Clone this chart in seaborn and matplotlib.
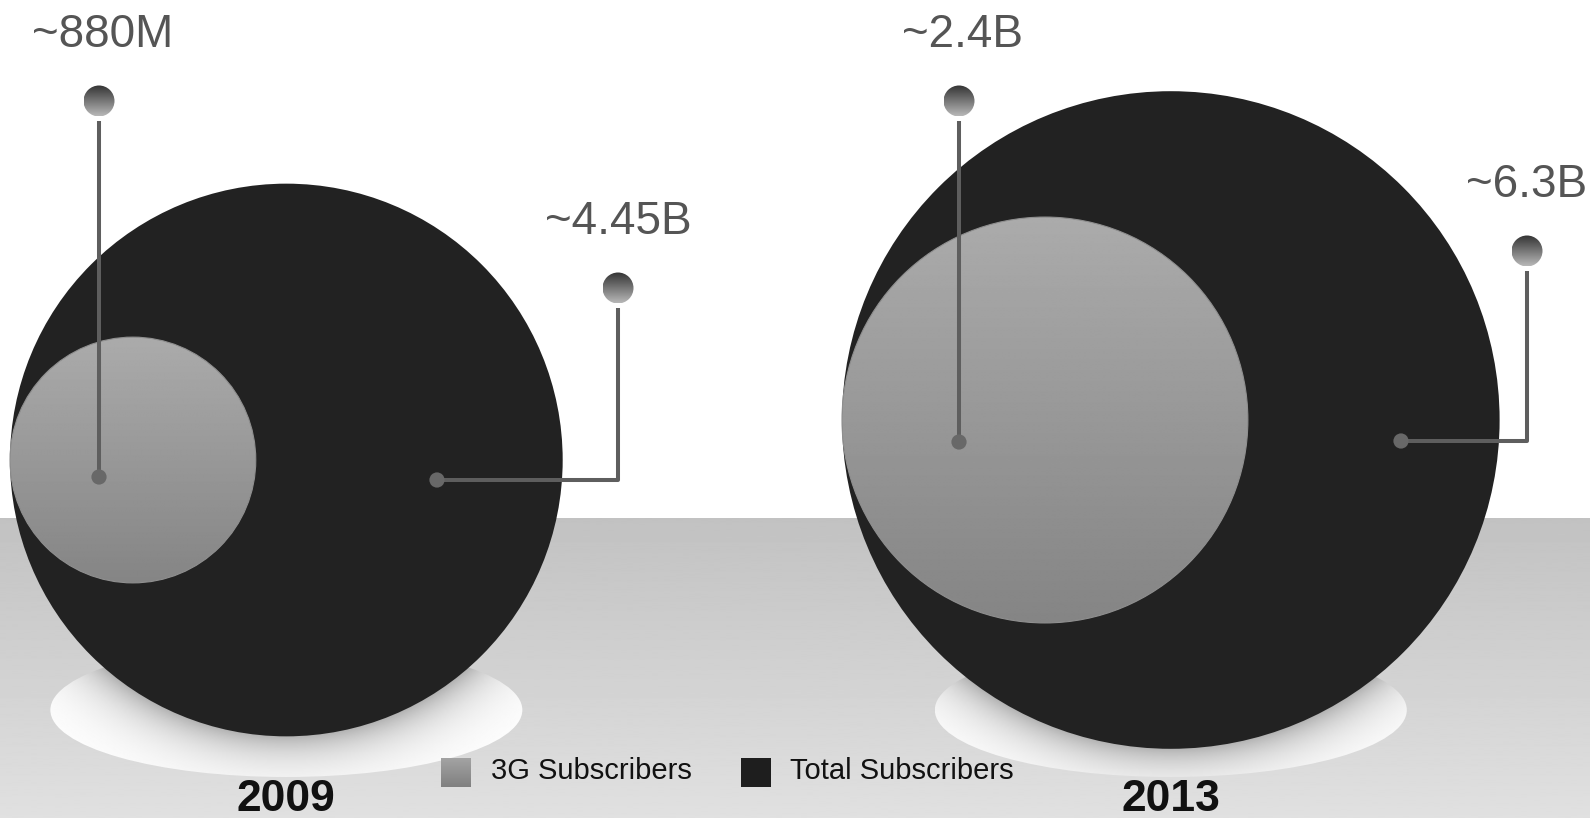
import numpy as np
import pandas as pd
import matplotlib
matplotlib.use('Agg')
import matplotlib.pyplot as plt
from matplotlib.patches import Circle, Ellipse, Rectangle
import seaborn as sns

# dados (bilhoes de assinantes)
years = ['2009', '2013']
subs_3g = [0.88, 2.4]
subs_total = [4.45, 6.3]
labels_3g = ['~880M', '~2.4B']
labels_total = ['~4.45B', '~6.3B']
legend_labels = ['3G Subscribers', 'Total Subscribers']

# layout (pixels)
W, H = 1590, 818
px_per_sqrt = 131          # raio = k * sqrt(valor) -> area proporcional
left_edge = [10, 842]
center_y = [460, 420]
floor_y = 518
pin_3g = [(99, 101), (959, 101)]
dot_3g_y = [477, 442]
pin_total = [(618, 288), (1527, 251)]
dot_total = [(437, 480), (1401, 441)]

sns.set_theme(style='white')
plt.rcParams['font.family'] = ['Liberation Sans', 'DejaVu Sans']

fig = plt.figure(figsize=(W / 100, H / 100), dpi=100)
ax = fig.add_axes([0, 0, 1, 1])
ax.set_autoscale_on(False)
ax.set_xlim(0, W)
ax.set_ylim(H, 0)
ax.axis('off')


def grad_fill(patch, extent, top, bottom, z):
    patch.set_facecolor('none')
    patch.set_edgecolor('none')
    ax.add_patch(patch)
    x0, x1, y0, y1 = extent
    img = ax.imshow(np.linspace(top, bottom, 256).reshape(-1, 1), cmap='gray',
                    vmin=0, vmax=1, extent=(x0, x1, y1, y0), aspect='auto',
                    origin='upper', zorder=z, interpolation='bilinear')
    img.set_clip_path(patch)


# chao cinza
floor = Rectangle((0, floor_y), W, H - floor_y)
grad_fill(floor, (0, W, floor_y, H), 0.76, 0.88, 0)

r_total = [px_per_sqrt * np.sqrt(v) for v in subs_total]
r_3g = [px_per_sqrt * np.sqrt(v) for v in subs_3g]
cx_total = [l + r for l, r in zip(left_edge, r_total)]
cx_3g = [l + r for l, r in zip(left_edge, r_3g)]

for i in range(2):
    cx, cy, R = cx_total[i], center_y[i], r_total[i]
    # sombra / base branca
    ew, eh, ecy = 472, 134, 710
    ex0, ex1, ey0, ey1 = cx - ew / 2, cx + ew / 2, ecy - eh / 2, ecy + eh / 2
    xs = np.linspace(ex0, ex1, 400)
    ys = np.linspace(ey0, ey1, 150)
    X, Y = np.meshgrid(xs, ys)
    d = np.clip(np.sqrt((X - cx) ** 2 + (Y - cy) ** 2) - R, 0, None)
    shade = 1 - 0.3 * np.exp(-d / 24)
    ell = Ellipse((cx, ecy), ew, eh, facecolor='none', edgecolor='none')
    ax.add_patch(ell)
    img = ax.imshow(shade, cmap='gray', vmin=0, vmax=1, extent=(ex0, ex1, ey1, ey0),
                    aspect='auto', origin='upper', zorder=1, interpolation='bilinear')
    img.set_clip_path(ell)

    # bolha total
    ax.add_patch(Circle((cx, cy), R, facecolor='#222222', edgecolor='none', zorder=2))
    # bolha 3G
    r = r_3g[i]
    c3 = Circle((cx_3g[i], cy), r)
    grad_fill(c3, (cx_3g[i] - r, cx_3g[i] + r, cy - r, cy + r), 0.67, 0.52, 3)
    ax.add_patch(Circle((cx_3g[i], cy), r, facecolor='none', edgecolor='#8f8f8f',
                        lw=0.8, zorder=3))

    # ano
    ax.text(cx, 811, years[i], ha='center', va='baseline', fontsize=32,
            fontweight='bold', color='#111111', zorder=6)


def pin(x, y):
    c = Circle((x, y), 15.5)
    grad_fill(c, (x - 15.5, x + 15.5, y - 15.5, y + 15.5), 0.2, 0.72, 5)


line_kw = dict(color='#5e5e5e', lw=2.9, solid_capstyle='butt', zorder=4)
dots = []
for i in range(2):
    px, py = pin_3g[i]
    ax.plot([px, px], [py + 20, dot_3g_y[i]], **line_kw)
    pin(px, py)
    ax.text(px + 4, py - 54, labels_3g[i], ha='center', va='baseline', fontsize=33,
            color='#555555', zorder=6)
    dots.append((px, dot_3g_y[i]))

    px, py = pin_total[i]
    dx, dy = dot_total[i]
    ax.plot([px, px, dx], [py + 20, dy, dy], **line_kw)
    pin(px, py)
    ax.text(px, py - 54, labels_total[i], ha='center', va='baseline', fontsize=33,
            color='#555555', zorder=6)
    dots.append((dx, dy))

df_dots = pd.DataFrame(dots, columns=['x', 'y'])
sns.scatterplot(data=df_dots, x='x', y='y', s=120, color='#686868', edgecolor='none',
                ax=ax, zorder=5, legend=False)
ax.set_xlim(0, W)
ax.set_ylim(H, 0)
ax.axis('off')

# legenda
sq = Rectangle((441, 758), 30, 29)
grad_fill(sq, (441, 471, 758, 787), 0.64, 0.5, 5)
ax.add_patch(Rectangle((741, 758), 30, 29, facecolor='#1e1e1e', edgecolor='none', zorder=5))
ax.text(491, 779, legend_labels[0], ha='left', va='baseline', fontsize=21,
        color='#111111', zorder=6)
ax.text(790, 779, legend_labels[1], ha='left', va='baseline', fontsize=21,
        color='#111111', zorder=6)

fig.savefig('out.png', dpi=100, facecolor='white')
